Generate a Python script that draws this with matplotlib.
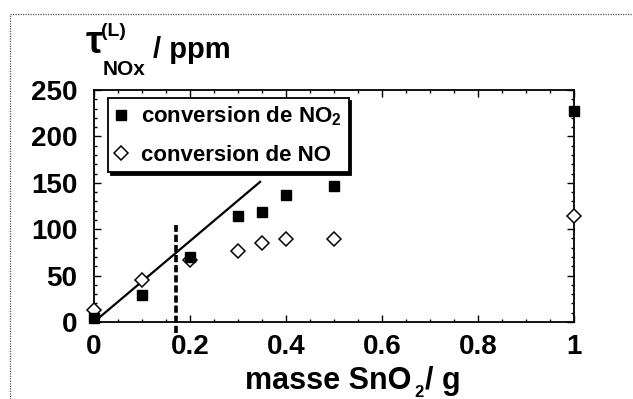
import matplotlib
matplotlib.use("Agg")
import matplotlib.pyplot as plt
from matplotlib.lines import Line2D
from matplotlib.ticker import MultipleLocator

plt.rcParams['font.family'] = ['Liberation Sans', 'DejaVu Sans']
plt.rcParams['font.weight'] = 'bold'
plt.rcParams['mathtext.fontset'] = 'custom'
plt.rcParams['mathtext.rm'] = 'Liberation Sans:bold'
plt.rcParams['mathtext.it'] = 'Liberation Sans:bold'
plt.rcParams['mathtext.bf'] = 'Liberation Sans:bold'

# data
mass_no2 = [0.0, 0.1, 0.2, 0.3, 0.35, 0.4, 0.5, 1.0]
conv_no2 = [4, 29, 70, 114, 119, 137, 147, 227]
mass_no = [0.0, 0.1, 0.2, 0.3, 0.35, 0.4, 0.5, 1.0]
conv_no = [13, 45, 67, 77, 85, 89, 89, 114]
fit_x = [0.0, 0.346]
fit_y = [0.0, 151]
limit_x = [0.17, 0.17]
limit_y = [-12, 105]
label_no2 = 'conversion de NO$_2$'
label_no = 'conversion de NO'
xtick_labels = ['0', '0.2', '0.4', '0.6', '0.8', '1']

W, H = 633, 399
fig = plt.figure(figsize=(W / 100, H / 100), dpi=100)

def px(x, y):
    return x / W, 1 - y / H

ax = fig.add_axes([94 / W, 1 - 322 / H, 480 / W, 232 / H])
ax.set_xlim(0, 1)
ax.set_ylim(0, 250)

ax.plot(fit_x, fit_y, color='black', lw=1.6, zorder=2)
ax.plot(limit_x, limit_y, color='black', lw=2.6, ls=(0, (2.0, 0.8)), clip_on=False, zorder=2)
ax.plot(mass_no2, conv_no2, ls='none', marker='s', ms=7.5, mfc='black', mec='black',
        clip_on=False, zorder=4, label=label_no2)
ax.plot(mass_no, conv_no, ls='none', marker='D', ms=7, mfc='white', mec='black', mew=1.1,
        clip_on=False, zorder=3, label=label_no)

ax.xaxis.set_major_locator(MultipleLocator(0.2))
ax.xaxis.set_minor_locator(MultipleLocator(0.05))
ax.yaxis.set_major_locator(MultipleLocator(50))
ax.yaxis.set_minor_locator(MultipleLocator(10))
ax.tick_params(which='both', direction='in', top=True, right=True, width=1.0)
ax.tick_params(which='major', length=5, labelsize=20)
ax.tick_params(axis='y', which='major', pad=12)
ax.tick_params(axis='x', which='major', pad=9)
ax.tick_params(which='minor', length=2.5)
ax.set_xticks([0, 0.2, 0.4, 0.6, 0.8, 1.0])
ax.set_xticklabels(xtick_labels)
for lab in ax.get_xticklabels() + ax.get_yticklabels():
    lab.set_fontweight('bold')
for s in ax.spines.values():
    s.set_linewidth(1.3)

leg = ax.legend(loc='upper left', bbox_to_anchor=(0.029, 0.966), borderaxespad=0,
                fancybox=False, edgecolor='black', framealpha=1,
                shadow={'color': 'black', 'alpha': 1, 'ox': 2, 'oy': -2},
                prop={'size': 16, 'weight': 'bold'}, handlelength=0.6, handletextpad=0.6,
                borderpad=0.3, labelspacing=0.75)
leg.get_frame().set_linewidth(1.3)

# y label pieces
fig.text(*px(86, 53), 'τ', fontsize=27, fontweight='bold', va='baseline', ha='left')
fig.text(*px(101, 36), '(L)', fontsize=14, fontweight='bold', va='baseline', ha='left')
fig.text(*px(103, 75), 'NOx', fontsize=15, fontweight='bold', va='baseline', ha='left')
fig.text(*px(153, 58), '/ ppm', fontsize=21, fontweight='bold', va='baseline', ha='left')

# x label pieces
fig.text(*px(411, 389), 'masse SnO', fontsize=22, fontweight='bold', va='baseline', ha='right')
fig.text(*px(414, 397), '2', fontsize=12, fontweight='bold', va='baseline', ha='left')
fig.text(*px(425, 389), '/ g', fontsize=22, fontweight='bold', va='baseline', ha='left')

# dotted outer frame (left and top edges)
fig.add_artist(Line2D([10 / W, 10 / W], [0, 1 - 14 / H], transform=fig.transFigure,
                      color='#555555', lw=0.9, ls=(0, (1, 1))))
fig.add_artist(Line2D([10 / W, 1], [1 - 14 / H, 1 - 14 / H], transform=fig.transFigure,
                      color='#555555', lw=0.9, ls=(0, (1, 1))))

fig.savefig('out.png', dpi=100)
